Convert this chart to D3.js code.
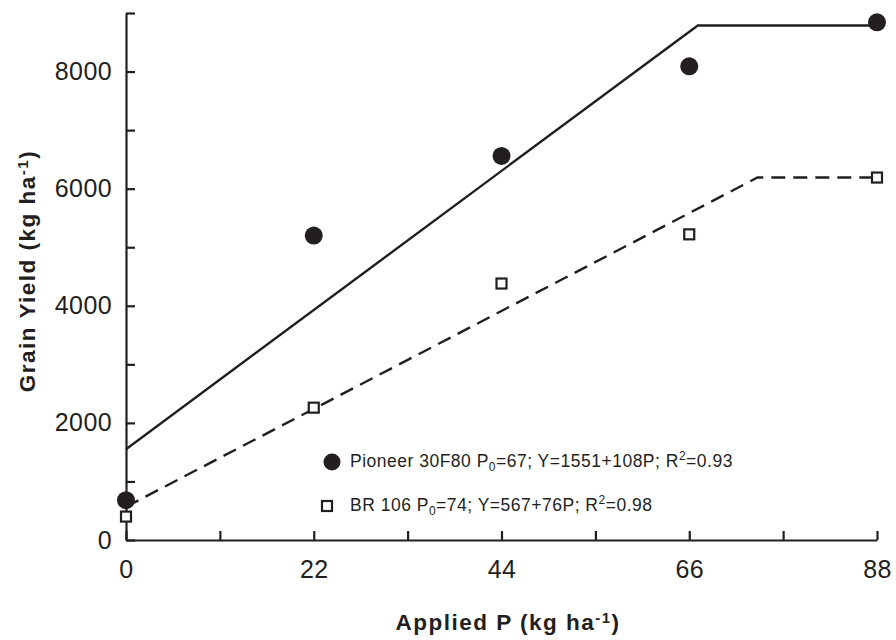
<!DOCTYPE html>
<html>
<head>
<meta charset="utf-8">
<script src="https://cdn.jsdelivr.net/npm/d3@7"></script>
<style>
  body { margin: 0; background: #fff; }
  svg text { font-family: "Liberation Sans", Arial, Helvetica, sans-serif; fill: #231f20; }
</style>
</head>
<body>
<div id="chart"></div>
<script>
// data
const rates = [0, 22, 44, 66, 88];
const pioneerYield = [680, 5200, 6560, 8090, 8840];
const br106Yield = [400, 2260, 4380, 5220, 6190];

// linear-plateau fits (breakpoints from the legend equations)
const pioneerFitX = [0, 67, 88];
const pioneerFitY = [1551, 8787, 8787];
const br106FitX = [0, 74, 88];
const br106FitY = [567, 6191, 6191];

const xTicks = [0, 11, 22, 33, 44, 55, 66, 77, 88];
const xLabels = [0, 22, 44, 66, 88];
const yTicks = [0, 1000, 2000, 3000, 4000, 5000, 6000, 7000, 8000, 9000];
const yLabels = [0, 2000, 4000, 6000, 8000];

const WIDTH = 896, HEIGHT = 640;
const INK = "#231f20";

const svg = d3.select("#chart").append("svg").attr("width", WIDTH).attr("height", HEIGHT)

const x_scale = d3.scaleLinear().domain([0, 88]).range([126, 877])
const y_scale = d3.scaleLinear().domain([0, 9000]).range([540, 13])

// axes, ticks pointing inward
const gen_x = d3.axisBottom(x_scale).tickValues(xTicks).tickSize(-9).tickSizeOuter(0).tickPadding(20)
  .tickFormat(d => xLabels.includes(d) ? d : "")
const x_g = svg.append("g").attr("transform", "translate(0," + y_scale(0) + ")").call(gen_x)

const gen_y = d3.axisLeft(y_scale).tickValues(yTicks).tickSize(-9).tickSizeOuter(0).tickPadding(14)
  .tickFormat(d => yLabels.includes(d) ? d : "")
const y_g = svg.append("g").attr("transform", "translate(" + x_scale(0) + ",0)").call(gen_y)

;[x_g, y_g].forEach(g => {
  g.select(".domain").attr("stroke", INK).attr("stroke-width", 2.2)
  g.selectAll(".tick line").attr("stroke", INK).attr("stroke-width", 2.2)
  g.selectAll(".tick text").attr("font-size", 25).attr("letter-spacing", 0.4).attr("fill", INK)
})

// fitted lines
const line = d3.line().x(d => x_scale(d[0])).y(d => y_scale(d[1]))
svg.append("path").datum(pioneerFitX.map((v, i) => [v, pioneerFitY[i]]))
  .attr("d", line).attr("fill", "none").attr("stroke", INK).attr("stroke-width", 2.4)
svg.append("path").datum(br106FitX.map((v, i) => [v, br106FitY[i]]))
  .attr("d", line).attr("fill", "none").attr("stroke", INK).attr("stroke-width", 2.4)
  .attr("stroke-dasharray", "14,8")

// points
svg.selectAll("circle.pio").data(rates).enter().append("circle").attr("class", "pio")
  .attr("cx", d => x_scale(d)).attr("cy", (d, i) => y_scale(pioneerYield[i]))
  .attr("r", 9).attr("fill", INK)

const SQ = 10
svg.selectAll("rect.br").data(rates).enter().append("rect").attr("class", "br")
  .attr("x", d => x_scale(d) - SQ / 2).attr("y", (d, i) => y_scale(br106Yield[i]) - SQ / 2)
  .attr("width", SQ).attr("height", SQ).attr("fill", "#fff").attr("stroke", INK).attr("stroke-width", 2.2)

// legend
const legend = svg.append("g")
legend.append("circle").attr("cx", 332).attr("cy", 462).attr("r", 8.5).attr("fill", INK)
legend.append("rect").attr("x", 327 - SQ / 2).attr("y", 506 - SQ / 2).attr("width", SQ).attr("height", SQ)
  .attr("fill", "#fff").attr("stroke", INK).attr("stroke-width", 2.2)

function legendText(y, parts) {
  const t = legend.append("text").attr("x", 350).attr("y", y).attr("font-size", 17.5).attr("letter-spacing", 0.5)
  parts.forEach(p => {
    const s = t.append("tspan").text(p.t)
    if (p.sub) s.attr("font-size", 12).attr("dy", 4)
    if (p.sup) s.attr("font-size", 12).attr("dy", -7)
    if (p.back) s.attr("dy", p.back)
  })
}
legendText(467, [
  {t: "Pioneer 30F80 P"}, {t: "0", sub: true}, {t: "=67; Y=1551+108P; R", back: -4},
  {t: "2", sup: true}, {t: "=0.93", back: 7}
])
legendText(511, [
  {t: "BR 106 P"}, {t: "0", sub: true}, {t: "=74; Y=567+76P; R", back: -4},
  {t: "2", sup: true}, {t: "=0.98", back: 7}
])

// axis titles
const xt = svg.append("text").attr("x", 508).attr("y", 630).attr("text-anchor", "middle")
  .attr("font-size", 22.5).attr("font-weight", "bold").attr("letter-spacing", 1.5)
xt.append("tspan").text("Applied P (kg ha")
xt.append("tspan").text("-1").attr("font-size", 15).attr("dy", -7)
xt.append("tspan").text(")").attr("dy", 7)

const yt = svg.append("text").attr("transform", "translate(35,271) rotate(-90)").attr("text-anchor", "middle")
  .attr("font-size", 22.5).attr("font-weight", "bold").attr("letter-spacing", 1.5)
yt.append("tspan").text("Grain Yield (kg ha")
yt.append("tspan").text("-1").attr("font-size", 15).attr("dy", -7)
yt.append("tspan").text(")").attr("dy", 7)
</script>
</body>
</html>
